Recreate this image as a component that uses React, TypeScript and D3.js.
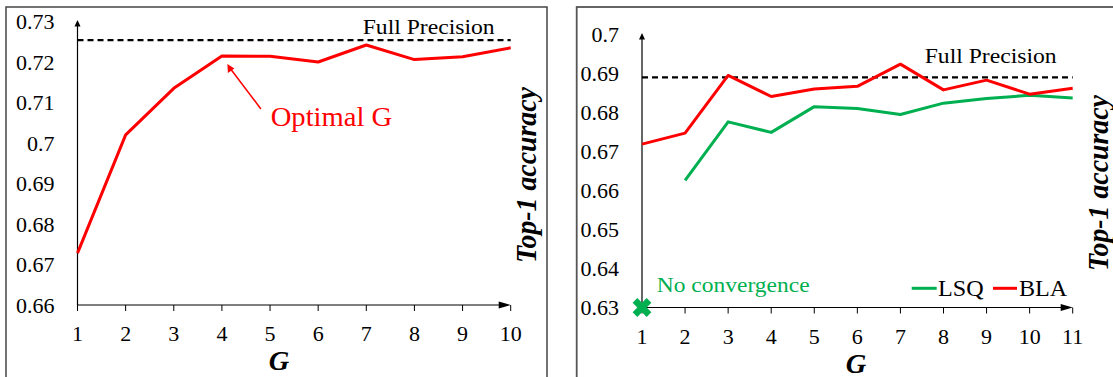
import * as d3 from "d3";
import type { ReactNode } from "react";

// left chart: BLA accuracy vs G
const leftG = [1, 2, 3, 4, 5, 6, 7, 8, 9, 10];
const leftAcc = [0.6728, 0.702, 0.7135, 0.7215, 0.7214, 0.72, 0.7242, 0.7206, 0.7213, 0.7235];
const leftFull = 0.7254;
const leftYTicks = [0.66, 0.67, 0.68, 0.69, 0.7, 0.71, 0.72, 0.73];

// right chart: LSQ vs BLA
const rightG = [1, 2, 3, 4, 5, 6, 7, 8, 9, 10, 11];
const blaAcc = [0.6719, 0.6747, 0.6895, 0.6841, 0.686, 0.6867, 0.6924, 0.6858, 0.6883, 0.6847, 0.6862];
const lsqAcc = [null, 0.6626, 0.6776, 0.6749, 0.6815, 0.681, 0.6795, 0.6824, 0.6836, 0.6844, 0.6837];
const rightFull = 0.689;
const rightYTicks = [0.63, 0.64, 0.65, 0.66, 0.67, 0.68, 0.69, 0.7];

const FONT = "'Liberation Serif', 'Times New Roman', serif";
const RED = "#ff0000";
const GREEN = "#00b050";

const fmt = (v: number) => String(+v.toFixed(2));

// text, optionally stretched horizontally around its anchor
const T = ({
  x,
  y,
  size,
  anchor = "start",
  fill = "#000",
  sx = 1,
  bold = false,
  children,
}: {
  x: number;
  y: number;
  size: number;
  anchor?: "start" | "middle" | "end";
  fill?: string;
  sx?: number;
  bold?: boolean;
  children: ReactNode;
}) => (
  <text
    transform={`translate(${x},${y}) scale(${sx},1)`}
    textAnchor={anchor}
    fontSize={size}
    fontFamily={FONT}
    fill={fill}
    fontWeight={bold ? "bold" : "normal"}
    fontStyle={bold ? "italic" : "normal"}
  >
    {children}
  </text>
);

type Panel = {
  x: d3.ScaleLinear<number, number>;
  y: d3.ScaleLinear<number, number>;
  xs: number[];
  yTicks: number[];
  full: number;
  fullLabelY: number;
  titleX: number;
  titleY: number;
  gX: number;
};

const Axes = ({ p }: { p: Panel }) => {
  const [x0, x1] = p.x.range();
  const [y0, y1] = p.y.range();
  return (
    <g>
      {/* y axis with arrow */}
      <line x1={x0} x2={x0} y1={y0} y2={y1 + 4} stroke="#000" strokeWidth={1.2} />
      <path d={`M${x0},${y1 - 1.5} L${x0 - 3},${y1 + 5} L${x0 + 3},${y1 + 5} Z`} fill="#000" />
      {/* x axis with arrow */}
      <line x1={x0} x2={x1 - 8} y1={y0} y2={y0} stroke="#000" strokeWidth={1.2} />
      <path d={`M${x1},${y0} L${x1 - 12},${y0 - 3.5} L${x1 - 12},${y0 + 3.5} Z`} fill="#000" />
      {p.xs.map((v) => (
        <g key={v}>
          <line x1={p.x(v)} x2={p.x(v)} y1={y0} y2={y0 + 6} stroke="#000" strokeWidth={1} />
          <T x={p.x(v)} y={y0 + 36} size={22} anchor="middle">
            {v}
          </T>
        </g>
      ))}
      {p.yTicks.map((v) => (
        <T key={v} x={x0 - 23} y={p.y(v) + 7.5} size={22} anchor="end">
          {fmt(v)}
        </T>
      ))}
      {/* full precision */}
      <line x1={x0} x2={x1} y1={p.y(p.full)} y2={p.y(p.full)} stroke="#000" strokeWidth={2.2} strokeDasharray="6,4" />
      <T x={x1 - 16} y={p.fullLabelY} size={21.5} anchor="end" sx={1.1}>
        Full Precision
      </T>
      <T x={p.gX} y={y0 + 65} size={27} anchor="middle" bold sx={1.05}>
        G
      </T>
      <text
        transform={`translate(${p.titleX},${p.titleY}) rotate(-90) scale(1.03,1.08)`}
        textAnchor="middle"
        fontSize={27}
        fontFamily={FONT}
        fontWeight="bold"
        fontStyle="italic"
      >
        Top-1 accuracy
      </text>
    </g>
  );
};

export default function App() {
  const left: Panel = {
    x: d3.scaleLinear().domain([1, 10]).range([77.5, 510.7]),
    y: d3.scaleLinear().domain([0.66, 0.73]).range([305, 21.5]),
    xs: leftG,
    yTicks: leftYTicks,
    full: leftFull,
    fullLabelY: 34,
    titleX: 536,
    titleY: 175,
    gX: 279,
  };
  const right: Panel = {
    x: d3.scaleLinear().domain([1, 11]).range([642, 1072.7]),
    y: d3.scaleLinear().domain([0.63, 0.7]).range([307.5, 34.5]),
    xs: rightG,
    yTicks: rightYTicks,
    full: rightFull,
    fullLabelY: 63,
    titleX: 1108,
    titleY: 183,
    gX: 856,
  };

  const leftLine = d3
    .line<number>()
    .x((_d, i) => left.x(leftG[i]))
    .y((d) => left.y(d));
  const rLine = d3
    .line<number | null>()
    .defined((d) => d != null)
    .x((_d, i) => right.x(rightG[i]))
    .y((d) => right.y(d as number));

  const p4x = left.x(leftG[3]);
  const p4y = left.y(leftAcc[3]);
  const cross = d3.symbol(d3.symbolCross, 220)();

  return (
    <svg width={1113} height={377} style={{ position: "absolute", left: 0, top: 0, background: "#fff" }}>
      <rect x={6} y={7} width={541} height={400} fill="none" stroke="#444" strokeWidth={1.5} />
      <rect x={576.7} y={7} width={600} height={400} fill="none" stroke="#555" strokeWidth={1.8} />

      <Axes p={left} />
      <path d={leftLine(leftAcc) || ""} fill="none" stroke={RED} strokeWidth={3} strokeLinejoin="round" />
      {/* annotation arrow */}
      <line x1={p4x + 39} y1={p4y + 53} x2={p4x + 8} y2={p4y + 12} stroke={RED} strokeWidth={1.5} />
      <path
        d={`M${p4x + 5.5},${p4y + 8} L${p4x + 6},${p4y + 17} L${p4x + 12.5},${p4y + 12.5} Z`}
        fill={RED}
      />
      <T x={270.7} y={126} size={27} fill={RED} sx={1.06}>
        Optimal G
      </T>

      <Axes p={right} />
      <path d={rLine(lsqAcc) || ""} fill="none" stroke={GREEN} strokeWidth={3} strokeLinejoin="round" />
      <path d={rLine(blaAcc) || ""} fill="none" stroke={RED} strokeWidth={3} strokeLinejoin="round" />
      <path
        d={cross || ""}
        transform={`translate(${right.x(1)},${right.y(0.63)}) rotate(45)`}
        fill={GREEN}
      />
      <T x={656.7} y={292} size={21} fill={GREEN} sx={1.12}>
        No convergence
      </T>
      {/* legend */}
      <line x1={911.7} x2={936.7} y1={288.3} y2={288.3} stroke={GREEN} strokeWidth={3} />
      <T x={938} y={296} size={23} sx={1.05}>
        LSQ
      </T>
      <line x1={993} x2={1017} y1={288.3} y2={288.3} stroke={RED} strokeWidth={3} />
      <T x={1019} y={296} size={23} sx={1.05}>
        BLA
      </T>
    </svg>
  );
}
